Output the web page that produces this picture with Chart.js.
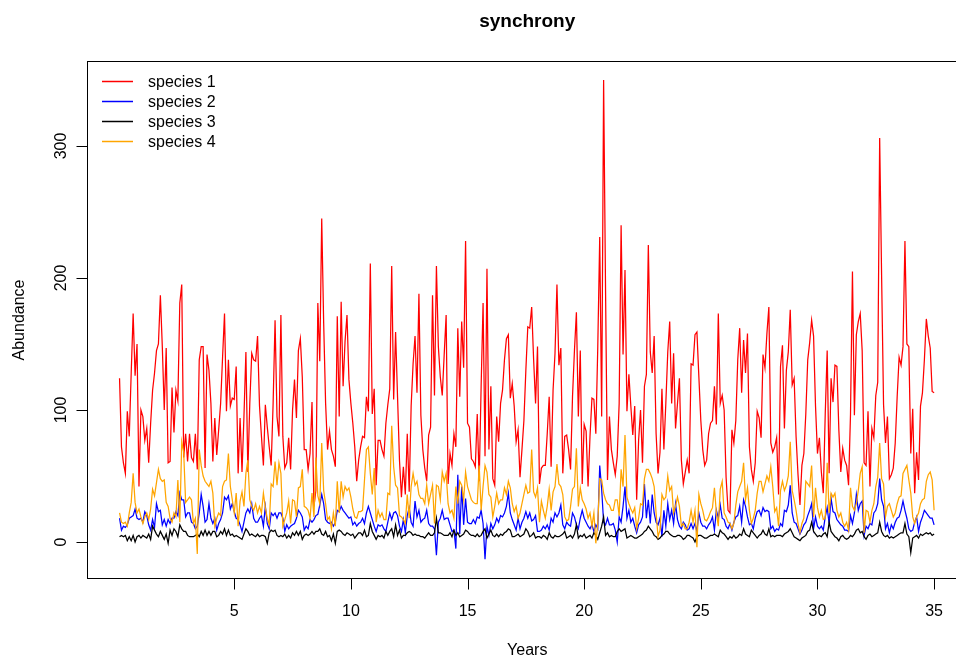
<!DOCTYPE html>
<html>
<head>
<meta charset="utf-8">
<title>synchrony</title>
<script src="https://cdn.jsdelivr.net/npm/chart.js@4.4.1/dist/chart.umd.min.js"></script>
<style>
  html, body { margin: 0; padding: 0; background: #fff; overflow: hidden; }
  #chart { display: block; }
</style>
</head>
<body>
<canvas id="chart" width="980" height="660"></canvas>
<script>
// Monatliche Abundanzen, 35 Jahre (420 Werte pro Art)
const species1 = [
  124, 72, 60, 52, 99, 80, 128, 173, 126, 150, 42, 100, 95, 77, 86, 60, 90, 115, 128, 145,
  150, 187, 148, 100, 147, 60, 61, 117, 83, 115, 107, 181, 195, 64, 82, 61, 82, 64, 61, 82, 55,
  138, 148, 148, 56, 142, 130, 105, 61, 94, 66, 85, 105, 140, 173, 99, 138, 103, 109, 108, 133,
  52, 94, 53, 95, 144, 53, 105, 143, 138, 137, 156, 103, 80, 58, 104, 87, 72, 58, 105, 168, 95, 80,
  172, 80, 56, 60, 79, 55, 100, 123, 94, 145, 154, 125, 70, 70, 55, 67, 106, 27, 39, 181, 137,
  245, 166, 105, 70, 84, 70, 65, 57, 171, 95, 182, 118, 152, 172, 123, 105, 90, 72, 46, 62, 72, 80,
  79, 110, 99, 211, 97, 116, 43, 77, 77, 70, 65, 90, 104, 116, 209, 108, 159, 110, 62, 34, 57,
  36, 82, 38, 103, 135, 156, 113, 188, 96, 70, 56, 46, 81, 87, 187, 111, 209, 148, 125, 111, 142, 172,
  44, 67, 58, 82, 72, 162, 110, 167, 132, 228, 90, 87, 63, 61, 57, 97, 46, 118, 181, 65, 207,
  70, 118, 48, 43, 95, 76, 105, 115, 138, 154, 157, 109, 120, 103, 76, 85, 49, 70, 92, 130, 163, 162,
  178, 138, 105, 148, 44, 56, 58, 58, 82, 110, 57, 115, 143, 195, 134, 147, 52, 80, 81, 70, 55,
  110, 145, 174, 95, 145, 44, 89, 84, 42, 80, 109, 108, 82, 148, 231, 95, 350, 190, 47, 95, 70, 60,
  51, 65, 105, 240, 142, 206, 99, 127, 103, 81, 103, 32, 77, 100, 60, 118, 127, 225, 144, 128, 156,
  82, 52, 68, 116, 70, 105, 144, 167, 105, 143, 86, 105, 124, 62, 44, 53, 62, 52, 135, 134, 157,
  159, 125, 92, 70, 58, 62, 82, 90, 92, 118, 89, 173, 105, 111, 100, 49, 24, 22, 85, 75, 92,
  138, 162, 113, 153, 128, 158, 72, 55, 46, 60, 99, 94, 79, 142, 132, 158, 178, 75, 68, 72, 79, 36,
  133, 149, 86, 130, 144, 176, 119, 124, 80, 51, 28, 58, 67, 97, 138, 151, 168, 156, 103, 67, 79,
  53, 37, 97, 145, 52, 124, 106, 134, 133, 85, 53, 71, 62, 58, 43, 97, 205, 96, 157, 167, 173, 145,
  60, 58, 99, 42, 86, 79, 111, 121, 306, 201, 104, 75, 95, 48, 51, 56, 75, 110, 140,
  134, 148, 228, 150, 148, 67, 101, 37, 68, 47, 103, 113, 138, 169, 156, 147, 114, 113
];
const species2 = [
  18, 9, 12, 11, 13, 18, 19, 20, 25, 18, 17, 18, 15, 23, 20, 13, 9, 17, 11, 29,
  23, 24, 13, 17, 12, 17, 14, 18, 18, 23, 20, 37, 32, 32, 19, 22, 22, 15, 14, 10, 12,
  22, 36, 27, 15, 17, 29, 18, 14, 18, 9, 14, 17, 22, 34, 32, 35, 25, 29, 23, 18,
  17, 13, 8, 15, 22, 25, 22, 29, 18, 15, 15, 18, 20, 12, 27, 14, 10, 22, 20, 22, 18, 22,
  22, 18, 8, 13, 10, 12, 13, 14, 18, 24, 22, 19, 9, 12, 10, 17, 15, 17, 20, 21, 28,
  36, 29, 17, 15, 14, 15, 12, 15, 24, 23, 27, 24, 22, 20, 18, 19, 13, 15, 12, 14, 15, 18,
  14, 22, 27, 22, 17, 12, 8, 13, 12, 13, 10, 8, 15, 22, 17, 22, 23, 20, 12, 8, 17,
  7, 20, 26, 15, 12, 31, 19, 24, 15, 17, 18, 24, 14, 12, 12, 10, -10, 15, 18, 24, 17, 18,
  18, 13, 8, 9, -5, 51, 6, 42, 13, 33, 15, 14, 14, 17, 14, 19, 18, 24, 14, -13, 12,
  5, 14, 10, 13, 18, 15, 20, 19, 22, 27, 37, 22, 17, 13, 9, 18, 10, 15, 18, 23, 18, 22,
  16, 17, 20, 8, 8, 9, 12, 10, 13, 9, 18, 15, 22, 19, 22, 28, 13, 10, 15, 13, 12,
  22, 19, 13, 10, 18, 24, 18, 15, 12, 10, 13, 8, 13, 10, 58, 40, 15, 13, 18, 13, 13, 14,
  9, 0, 19, 15, 27, 42, 18, 24, 15, 18, 12, 7, 13, 15, 19, 44, 18, 32, 14, 36, 22,
  15, 13, 18, 4, 24, 12, 29, 17, 24, 14, 29, 17, 12, 10, 15, 13, 9, 10, 14, 10, 14,
  8, 22, 15, 12, 12, 10, 13, 15, 19, 9, 24, 18, 28, 18, 17, 12, 10, 14, 9, 15, 19,
  20, 27, 15, 32, 27, 19, 13, 14, 10, 18, 23, 24, 20, 26, 23, 24, 23, 10, 12, 8, 10, 9,
  14, 12, 24, 23, 28, 43, 22, 15, 14, 10, 6, 9, 13, 15, 20, 24, 29, 10, 19, 12, 10,
  12, 9, 19, 26, 14, 33, 23, 22, 17, 15, 13, 12, 9, 9, 8, 20, 14, 22, 36, 24, 29, 31,
  5, 12, 10, 14, 13, 22, 24, 29, 48, 32, 27, 10, 14, 7, 13, 10, 15, 18, 19,
  24, 31, 24, 18, 10, 8, 9, 15, 19, 8, 15, 19, 24, 22, 20, 18, 18, 13
];
const species3 = [
  4, 5, 4, 5, 1, 4, 1, 5, 0, 4, 5, 3, 5, 4, 3, 6, 2, 12, 9, 6,
  4, 8, 5, 2, 6, -1, 9, 5, 10, 8, 4, 13, 10, 8, 8, 5, 4, 4, 4, 5, 6,
  4, 8, 5, 9, 5, 8, 5, 8, 8, 4, 5, 8, 6, 10, 5, 9, 5, 6, 4, 5,
  4, 3, 2, 6, 10, 8, 5, 6, 5, 4, 6, 4, 5, 5, 4, -1, 7, 9, 8, 9, 5, 4,
  5, 4, 6, 3, 5, 3, 7, 5, 8, 5, 8, 2, 5, 6, 5, 6, 8, 6, 8, 8, 10,
  6, 5, 8, 4, 5, 1, 6, -1, 8, 9, 8, 6, 5, 7, 6, 5, 6, 3, 5, 7, 7, 5,
  9, 4, 5, 14, 8, 5, 2, 5, 4, 5, 3, 8, 5, 8, 10, 4, 13, 5, 9, 3, 5,
  5, 7, 8, 7, 5, 6, 5, 5, 4, 4, 3, 5, 7, 5, 5, 7, 18, 7, 7, 6, 5, 5,
  5, 7, 4, 9, 5, 7, 4, 5, 6, 9, 8, 6, 5, 5, 4, 6, 4, 5, 8, 10, 3,
  6, 9, 5, 4, 6, 4, 6, 5, 7, 8, 10, 9, 4, 4, 5, 6, 4, 5, 6, 10, 8, 4,
  5, 7, 3, 4, 4, 3, 5, 4, 2, 7, 4, 3, 5, 4, 4, 5, 6, 8, 3, 4, 5,
  3, 6, 13, 3, 5, 4, 6, 3, 4, 5, 3, 7, 5, 2, 7, 12, 19, 5, 7, 4, 5, 4,
  4, 8, 10, 8, 9, 10, 3, 4, 5, 4, 3, 3, 4, 5, 6, 8, 9, 12, 10, 8, 5,
  4, 2, 3, 5, 6, 8, 8, 6, 5, 4, 4, 5, 5, 4, 2, 3, 5, 5, 4, 3, 0,
  4, 5, 5, 4, 3, 3, 4, 5, 5, 6, 5, 4, 9, 7, 6, 4, 2, 4, 3, 5, 3,
  4, 6, 5, 10, 6, 5, 4, 9, 7, 5, 3, 5, 6, 9, 6, 5, 10, 4, 5, 4, 5, 5,
  5, 4, 6, 7, 8, 10, 7, 4, 3, 2, 1, 3, 4, 5, 8, 9, 15, 8, 6, 4, 5,
  4, 6, 7, 4, 15, 8, 6, 4, 3, 1, 4, 5, 3, 2, 3, 5, 4, 6, 9, 10, 7, 8,
  4, 2, 5, 6, 4, 5, 6, 7, 15, 8, 5, 4, 5, 3, 4, 3, 4, 5, 6,
  7, 7, 14, 6, 4, -8, 3, 4, 5, 3, 6, 5, 6, 7, 6, 7, 5, 6
];
const species4 = [
  22, 15, 14, 15, 12, 22, 30, 52, 30, 22, 25, 19, 14, 19, 22, 17, 25, 40, 35, 45,
  55, 48, 46, 47, 30, 27, 18, 15, 22, 19, 47, 15, 76, 68, 30, 32, 34, 32, 14, 18, -9,
  70, 58, 50, 46, 44, 42, 46, 37, 12, 18, 22, 20, 42, 46, 47, 67, 42, 32, 22, 37,
  12, 31, 38, 27, 52, 62, 32, 27, 24, 29, 22, 27, 22, 37, 26, 18, 13, 44, 42, 61, 43, 60,
  52, 12, 17, 22, 31, 14, 32, 31, 19, 41, 42, 55, 27, 26, 24, 18, 37, 19, 64, 35, 29,
  75, 39, 29, 17, 19, 10, 22, 12, 46, 22, 46, 34, 42, 39, 41, 34, 25, 19, 18, 23, 23, 24,
  47, 70, 72, 52, 36, 56, 15, 24, 19, 22, 17, 17, 37, 36, 88, 57, 43, 41, 20, 19, 17,
  14, 36, 18, 42, 52, 43, 46, 36, 33, 33, 29, 43, 29, 36, 43, 14, 43, 42, 32, 53, 46, 52,
  29, 22, 24, 18, 42, 29, 46, 43, 32, 53, 42, 37, 32, 30, 29, 29, 58, 24, 42, 58, 53,
  36, 34, 19, 27, 37, 29, 32, 32, 41, 36, 46, 41, 29, 23, 27, 18, 22, 29, 36, 43, 37, 38,
  70, 38, 34, 41, 15, 31, 24, 18, 27, 40, 24, 38, 42, 59, 44, 42, 36, 19, 16, 17, 27,
  40, 42, 71, 27, 41, 32, 29, 25, 18, 22, 12, 22, -1, 14, 48, 47, 37, 32, 29, 28, 24, 24,
  32, 32, 20, 55, 42, 81, 34, 29, 25, 22, 26, 10, 18, 29, 28, 48, 55, 55, 52, 48, 42,
  22, 4, 9, 36, 32, 34, 50, 39, 42, 22, 27, 34, 27, 12, 14, 10, 10, 15, 24, 15, 24,
  -4, 36, 29, 24, 17, 16, 19, 23, 26, 41, 22, 12, 40, 46, 22, 19, 15, 14, 10, 14, 28,
  38, 42, 46, 60, 32, 41, 24, 14, 18, 24, 37, 46, 46, 38, 44, 50, 46, 57, 42, 23, 26, 12,
  39, 46, 39, 43, 50, 76, 39, 32, 24, 14, 7, 14, 18, 46, 44, 42, 58, 19, 41, 26, 19,
  24, 17, 18, 60, 22, 37, 34, 37, 24, 19, 22, 15, 12, 15, 9, 41, 27, 24, 29, 39, 52, 57,
  7, 24, 23, 15, 24, 29, 42, 49, 75, 48, 44, 19, 27, 29, 24, 19, 22, 29, 34,
  35, 52, 55, 58, 47, 37, 19, 14, 19, 22, 29, 32, 33, 46, 51, 53, 47, 24
];

// Zeitachse in Jahren: Monat 1 .. 420
const years = species1.map((v, i) => (i + 1) / 12);

const xTicks = [5, 10, 15, 20, 25, 30, 35];
const yTicks = [0, 100, 200, 300];
const speciesNames = ["species 1", "species 2", "species 3", "species 4"];
const speciesColors = ["#ff0000", "#0000ff", "#000000", "#ffa500"];

const FONT = "'Liberation Sans', Arial, Helvetica, sans-serif";

/*
Zeichnet Rahmen, Achsen, Beschriftungen und Legende im Stil von base R.
 */
const rStyle = {
    id: "rStyle",
    afterDraw(chart) {
        const ctx = chart.ctx;
        const area = chart.chartArea;
        const xs = chart.scales.x;
        const ys = chart.scales.y;
        ctx.save();
        ctx.strokeStyle = "#000";
        ctx.fillStyle = "#000";
        ctx.lineWidth = 1;

        // Rahmen
        ctx.strokeRect(area.left, area.top, area.right - area.left, area.bottom - area.top);

        // x-Achse
        ctx.beginPath();
        xTicks.forEach(t => {
            const px = Math.round(xs.getPixelForValue(t)) + 0.5;
            ctx.moveTo(px, area.bottom);
            ctx.lineTo(px, area.bottom + 11);
        });
        ctx.stroke();
        ctx.font = "16px " + FONT;
        ctx.textAlign = "center";
        ctx.textBaseline = "alphabetic";
        xTicks.forEach(t => ctx.fillText(String(t), xs.getPixelForValue(t), 616));

        // y-Achse
        ctx.beginPath();
        yTicks.forEach(t => {
            const py = Math.round(ys.getPixelForValue(t)) + 0.5;
            ctx.moveTo(area.left, py);
            ctx.lineTo(area.left - 11, py);
        });
        ctx.stroke();
        yTicks.forEach(t => {
            ctx.save();
            ctx.translate(66, ys.getPixelForValue(t));
            ctx.rotate(-Math.PI / 2);
            ctx.fillText(String(t), 0, 0);
            ctx.restore();
        });

        // Achsentitel
        const midX = (area.left + area.right) / 2;
        const midY = (area.top + area.bottom) / 2;
        ctx.fillText("Years", midX, 655);
        ctx.save();
        ctx.translate(24, midY);
        ctx.rotate(-Math.PI / 2);
        ctx.fillText("Abundance", 0, 0);
        ctx.restore();

        // Titel
        ctx.font = "bold 19px " + FONT;
        ctx.fillText("synchrony", midX, 27);

        // Legende
        ctx.font = "16px " + FONT;
        ctx.textAlign = "left";
        ctx.textBaseline = "middle";
        speciesNames.forEach((name, i) => {
            const ly = 81.5 + i * 20;
            ctx.strokeStyle = speciesColors[i];
            ctx.lineWidth = 1.5;
            ctx.beginPath();
            ctx.moveTo(102, ly);
            ctx.lineTo(133, ly);
            ctx.stroke();
            ctx.fillStyle = "#000";
            ctx.fillText(name, 148, ly + 1);
        });
        ctx.restore();
    }
};

const datasets = [species1, species2, species3, species4].map((values, i) => ({
    label: speciesNames[i],
    data: values,
    borderColor: speciesColors[i],
    borderWidth: 1.25,
    pointRadius: 0,
    tension: 0,
    fill: false,
    order: 3 - i
}));

const ctx = document.getElementById("chart");
const synchronyChart = new Chart(ctx, {
    type: "line",
    data: {
        labels: years,
        datasets: datasets
    },
    options: {
        responsive: false,
        devicePixelRatio: 1,
        animation: false,
        events: [],
        layout: {
            padding: { left: 87.5, top: 61.5, right: 13, bottom: 81.5 }
        },
        scales: {
            x: { type: "linear", min: -1.29, max: 36.41, display: false },
            y: { type: "linear", min: -27.65, max: 364, display: false }
        },
        plugins: {
            legend: { display: false },
            tooltip: { enabled: false },
            title: { display: false }
        }
    },
    plugins: [rStyle]
});
</script>
</body>
</html>
